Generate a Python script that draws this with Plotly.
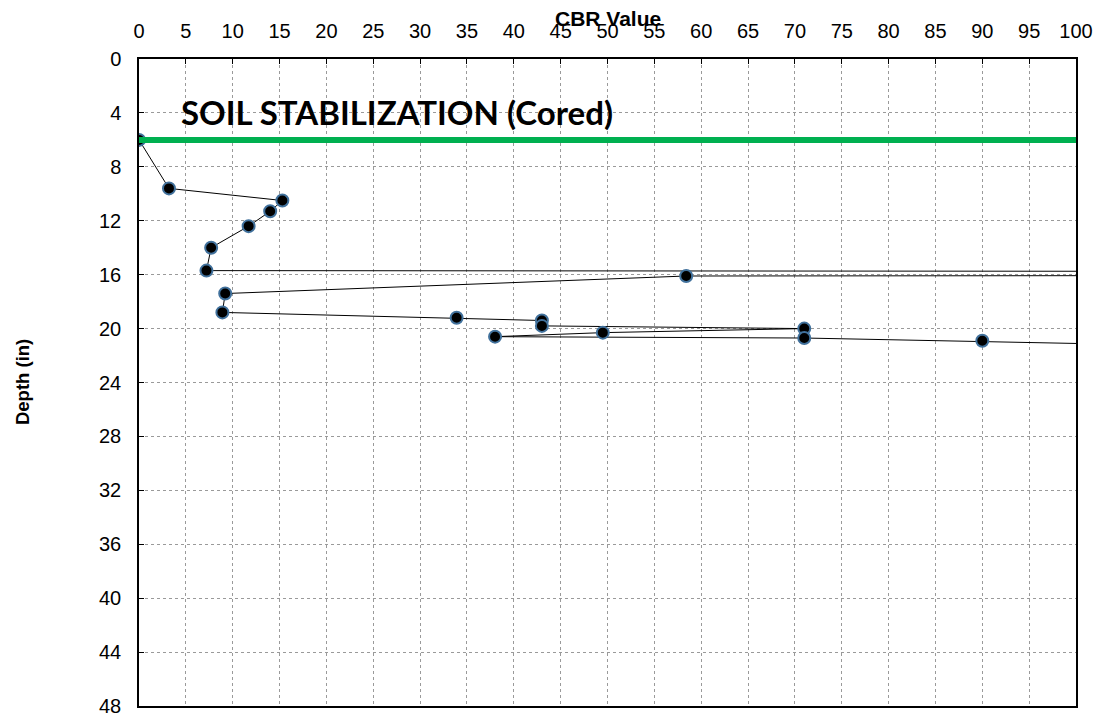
import plotly.graph_objects as go

# Data
cbr_values = [0, 3.2, 15.3, 14.0, 11.7, 7.7, 7.2, 400, 58.4, 9.2, 8.9, 33.9, 43.0, 43.0, 71.0, 49.5, 38.0, 71.0, 90.0, 150]
depth_in = [6.0, 9.6, 10.5, 11.3, 12.4, 14.0, 15.7, 15.9, 16.1, 17.4, 18.8, 19.2, 19.4, 19.8, 20.0, 20.3, 20.6, 20.7, 20.9, 21.8]

stab_cbr = [0, 100]
stab_depth = [6, 6]

x_ticks = list(range(0, 101, 5))
y_ticks = list(range(0, 49, 4))

title_text = "SOIL STABILIZATION (Cored)"

fig = go.Figure()
fig.add_trace(go.Scatter(
    x=cbr_values, y=depth_in, mode="lines+markers",
    line=dict(color="black", width=1),
    marker=dict(size=12, color="black", line=dict(color="#41719C", width=2)),
    showlegend=False,
))
fig.add_trace(go.Scatter(
    x=stab_cbr, y=stab_depth, mode="lines",
    line=dict(color="#00B050", width=6),
    showlegend=False,
))

fig.update_layout(
    width=1105, height=721,
    margin=dict(l=130.5, r=37, t=49, b=20),
    paper_bgcolor="white", plot_bgcolor="white",
    font=dict(family="Liberation Sans, Arial", size=20, color="black"),
    xaxis=dict(
        side="top", range=[0, 100], tickvals=x_ticks, ticktext=[str(v) for v in x_ticks],
        showgrid=True, gridcolor="#9a9a9a", griddash="dot", gridwidth=1,
        showline=True, linecolor="black", linewidth=1.5, mirror=True,
        ticks="inside", ticklen=5, tickcolor="black", ticklabelstandoff=11,
        zeroline=False, fixedrange=True,
    ),
    yaxis=dict(
        range=[48, 0], tickvals=y_ticks, ticktext=[str(v) for v in y_ticks],
        showgrid=True, gridcolor="#9a9a9a", griddash="dot", gridwidth=1,
        showline=True, linecolor="black", linewidth=1.5, mirror=True,
        ticks="inside", ticklen=5, tickcolor="black", ticklabelstandoff=12,
        zeroline=False, fixedrange=True,
    ),
    annotations=[
        dict(text="<b>CBR Value</b>", xref="paper", yref="paper", x=0.5, y=1.0629,
             xanchor="center", yanchor="middle", showarrow=False,
             font=dict(family="Liberation Sans, Arial", size=21, color="black")),
        dict(text="<b>Depth (in)</b>", xref="paper", yref="paper", x=-0.1243, y=0.5,
             xanchor="center", yanchor="middle", showarrow=False, textangle=-90,
             font=dict(family="Liberation Sans, Arial", size=18.5, color="black")),
        dict(text="<b>" + title_text + "</b>", xref="x", yref="y", x=27.5, y=3.9,
             xanchor="center", yanchor="middle", showarrow=False,
             font=dict(family="Lato", size=33, color="black")),
    ],
)

fig.write_html("out.html")
